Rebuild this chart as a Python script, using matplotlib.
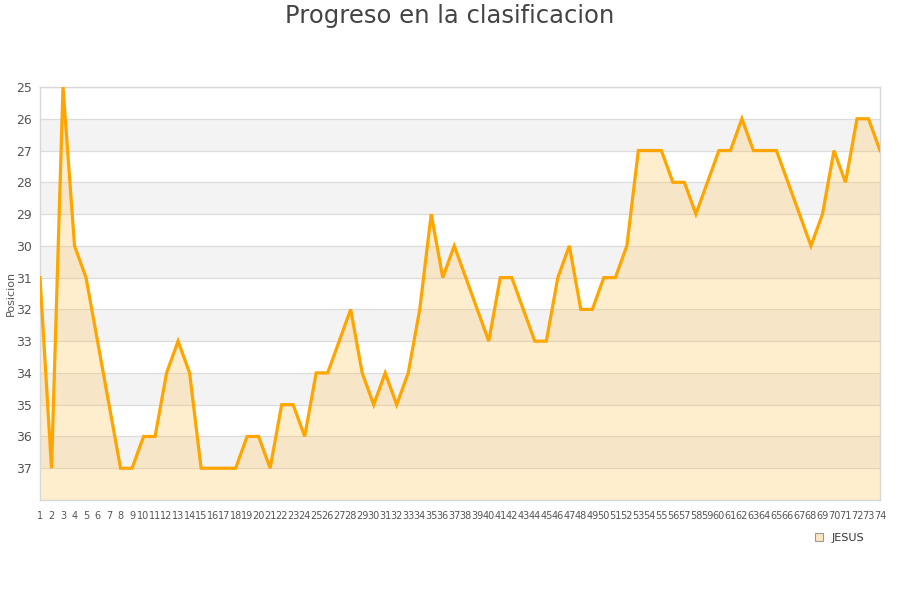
import matplotlib
matplotlib.use("Agg")
import matplotlib.pyplot as plt
from matplotlib.patches import Patch

jornadas = list(range(1, 75))
posiciones = [31, 37, 25, 30, 31, 33, 35, 37, 37, 36,
              36, 34, 33, 34, 37, 37, 37, 37, 36, 36,
              37, 35, 35, 36, 34, 34, 33, 32, 34, 35,
              34, 35, 34, 32, 29, 31, 30, 31, 32, 33,
              31, 31, 32, 33, 33, 31, 30, 32, 32, 31,
              31, 30, 27, 27, 27, 28, 28, 29, 28, 27,
              27, 26, 27, 27, 27, 28, 29, 30, 29, 27,
              28, 26, 26, 27]
y_ticks = list(range(25, 38))
nombre = "JESUS"

linea = "#ffa500"
texto = "#555555"

fig = plt.figure(figsize=(9, 6), dpi=100)
ax = fig.add_axes([40 / 900, 100 / 600, 840 / 900, 413 / 600])

ax.set_xlim(1, 74)
ax.set_ylim(38, 25)

# alternating bands like the original chart
for y0 in range(26, 38, 2):
    ax.axhspan(y0, y0 + 1, color="#f3f3f3", zorder=0, lw=0)
for y in y_ticks:
    ax.axhline(y, color="#dcdcdc", lw=0.9, zorder=1)

ax.fill_between(jornadas, posiciones, 38, color="#ffc14d", alpha=0.27, lw=0, zorder=2)
ax.plot(jornadas, posiciones, color=linea, lw=2.3, zorder=3, solid_joinstyle="miter")

ax.set_yticks(y_ticks)
ax.set_yticklabels([str(v) for v in y_ticks], fontsize=9, color=texto)
ax.set_xticks(jornadas)
# labels are crowded in the original too, keep them small
ax.set_xticklabels([str(j) for j in jornadas], fontsize=7, color=texto)
ax.tick_params(axis="both", length=0, pad=6)
ax.tick_params(axis="x", pad=8)
for lado in ax.spines.values():
    lado.set_color("#d8d8d8")
    lado.set_linewidth(1)

fig.text(11 / 900, 1 - 293 / 600, "Posicion", rotation=90, ha="center", va="center",
         fontsize=8, color=texto)
fig.text(0.5, 0.993, "Progreso en la clasificacion", ha="center", va="top",
         fontsize=17.5, color="#444444")

handle = Patch(facecolor="#fbe6bd", edgecolor="#999999", lw=0.8)
fig.legend([handle], [nombre], loc="center left", bbox_to_anchor=(805 / 900, 1 - 538 / 600),
           frameon=False, fontsize=8, handlelength=0.7, handleheight=0.7,
           handletextpad=0.8, labelcolor="#333333")

fig.savefig("out.png", dpi=100)
